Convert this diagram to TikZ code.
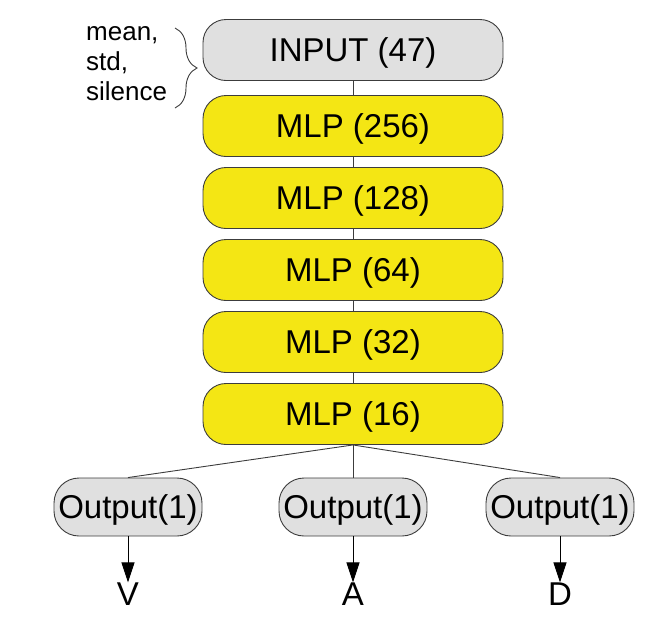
\documentclass[tikz,border=0pt]{standalone}
\usepackage{fontspec}
\setmainfont{Liberation Sans}
\usetikzlibrary{arrows.meta,decorations.pathreplacing}
\definecolor{boxgray}{RGB}{224,224,224}
\definecolor{boxyellow}{RGB}{244,230,20}
\definecolor{edgegray}{RGB}{60,60,60}
\tikzset{
  layerbox/.style={draw=edgegray, line width=0.9pt, rounded corners=23pt, minimum width=300pt, minimum height=61pt, inner sep=0pt, text depth=0pt, font=\fontsize{33}{40}\selectfont},
  inbox/.style={layerbox, fill=boxgray},
  mlpbox/.style={layerbox, fill=boxyellow},
  outbox/.style={draw=edgegray, line width=0.9pt, rounded corners=25pt, minimum width=148pt, minimum height=58pt, inner sep=0pt, text depth=0pt, fill=boxgray, font=\fontsize{33}{40}\selectfont},
  link/.style={draw=edgegray, line width=0.9pt},
  outarrow/.style={draw=black, line width=0.9pt, -{Triangle[length=20pt,width=13pt]}},
  lbl/.style={font=\fontsize{33}{40}\selectfont, inner sep=0pt},
}
\begin{document}
\begin{tikzpicture}[x=1pt,y=-1pt]
\useasboundingbox (0,0) rectangle (672,622);
\node[inbox] (in) at (353,50) {INPUT (47)};
\node[mlpbox] (m1) at (353,126) {MLP (256)};
\node[mlpbox] (m2) at (353,198) {MLP (128)};
\node[mlpbox] (m3) at (353,270) {MLP (64)};
\node[mlpbox] (m4) at (353,342) {MLP (32)};
\node[mlpbox] (m5) at (353,414) {MLP (16)};
\draw[link] (in) -- (m1);
\draw[link] (m1) -- (m2);
\draw[link] (m2) -- (m3);
\draw[link] (m3) -- (m4);
\draw[link] (m4) -- (m5);
\node[outbox] (ov) at (128,507) {Output(1)};
\node[outbox] (oa) at (353,507) {Output(1)};
\node[outbox] (od) at (560,507) {Output(1)};
\draw[link] (m5.south) -- (ov.north);
\draw[link] (m5.south) -- (oa.north);
\draw[link] (m5.south) -- (od.north);
\node[lbl] (lv) at (128,594) {V};
\node[lbl] (la) at (353,594) {A};
\node[lbl] (ld) at (560,594) {D};
\draw[outarrow] (ov.south) -- (lv.north);
\draw[outarrow] (oa.south) -- (la.north);
\draw[outarrow] (od.south) -- (ld.north);
\node[anchor=west, align=left, inner sep=0pt, font=\fontsize{26}{30}\selectfont] (feat) at (86,64) {mean,\\std,\\silence};
\coordinate (bt) at (175,28);
\coordinate (bb) at (175,108);
\draw[edgegray, line width=0.9pt, decorate, decoration={brace, amplitude=22pt}] (bt) -- (bb);
\end{tikzpicture}
\end{document}
